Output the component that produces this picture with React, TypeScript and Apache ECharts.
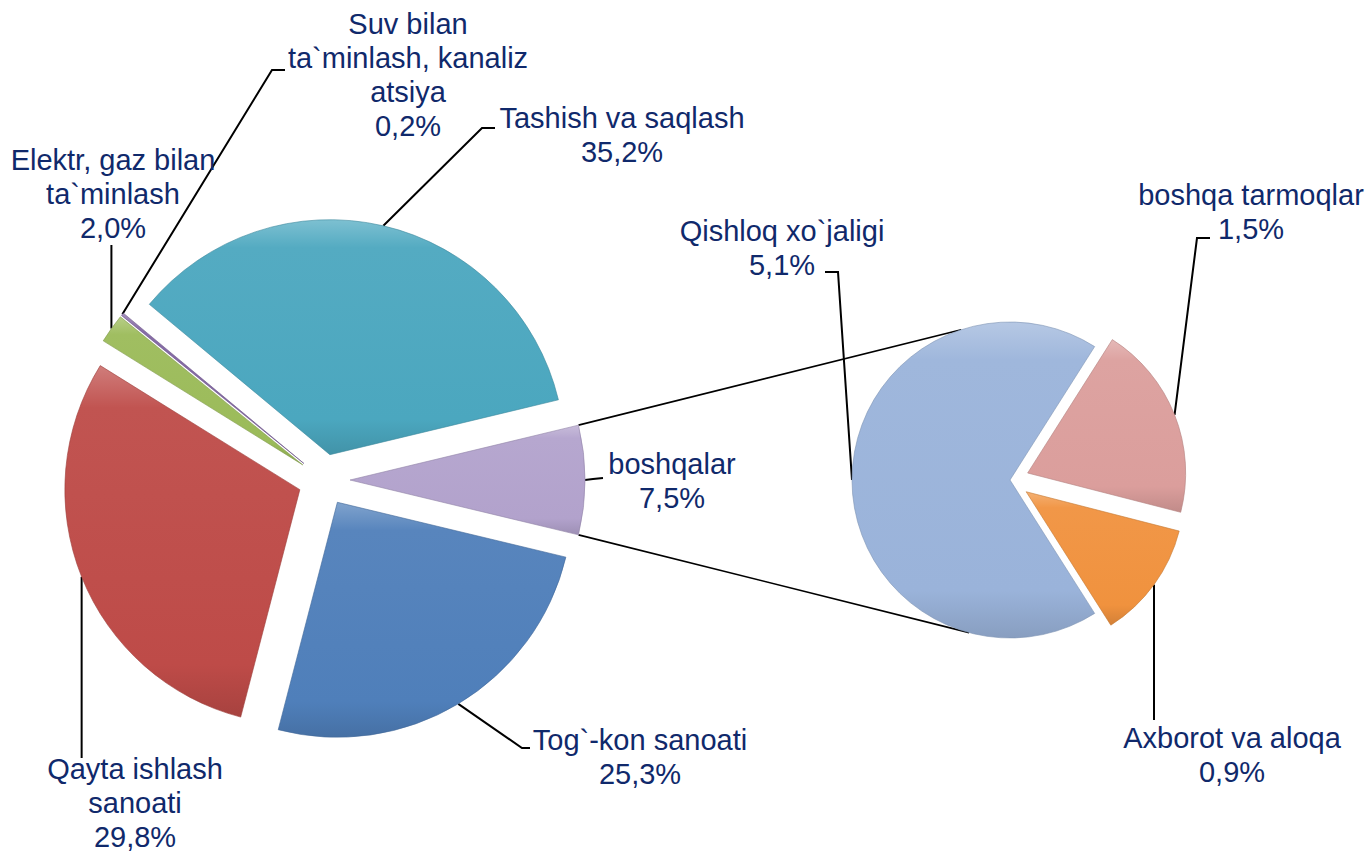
import React, { useEffect, useRef } from 'react';
import * as echarts from 'echarts';

// ---- Data ----
const mainNames = [
  'boshqalar',
  'Tashish va saqlash',
  'Suv bilan\nta`minlash, kanaliz\natsiya',
  'Elektr, gaz bilan\nta`minlash',
  'Qayta ishlash\nsanoati',
  'Tog`-kon sanoati',
];
const mainValues = [7.5, 35.2, 0.2, 2.0, 29.8, 25.3];
const mainColors = ['#B2A2CC', '#4BA7BF', '#8064A2', '#9BBB59', '#BE4B48', '#4F7FBA'];

const subNames = ['Qishloq xo`jaligi', 'Axborot va aloqa', 'boshqa tarmoqlar'];
const subValues = [5.1, 0.9, 1.5];
const subColors = ['#9AB3DA', '#F0923E', '#DB9E9C'];

// ---- Layout (positions / styles) ----
const MAIN_CENTER = [324, 480];
const MAIN_R = 235;
const MAIN_OFFSETS = [26, 26, 26, 26, 26, 26];
const SUB_CENTER = [1010, 480];
const SUB_R = 158;
const SUB_OFFSETS = [0, 20, 19];

const FONT = "'Liberation Sans', Arial, sans-serif";
const TEXT_COLOR = '#10296b';

type LabelSpec = { x: number; y: number; bend: (s: number[]) => number[][] };

const mainLabels: LabelSpec[] = [
  { x: 672, y: 481, bend: (s) => [[s[0] + 8, 479], [603, 478]] },
  { x: 622, y: 135, bend: () => [[482, 128], [495, 128]] },
  { x: 408, y: 75, bend: () => [[272, 70], [285, 70]] },
  { x: 113, y: 194, bend: (s) => [[s[0], 245]] },
  { x: 135, y: 803, bend: (s) => [[s[0], 758]] },
  { x: 640, y: 757, bend: () => [[522, 748], [530, 748]] },
];
const subLabels: LabelSpec[] = [
  { x: 782, y: 248, bend: () => [[838, 272], [825, 272]] },
  { x: 1232, y: 755, bend: (s) => [[s[0], 720]] },
  { x: 1251, y: 212, bend: () => [[1197, 238], [1210, 238]] },
];

function shade(hex: string, amt: number) {
  const n = parseInt(hex.slice(1), 16);
  const r = (n >> 16) & 255, g = (n >> 8) & 255, b = n & 255;
  const f = (c: number) => (amt >= 0 ? Math.round(c + (255 - c) * amt) : Math.round(c * (1 + amt)));
  return `rgb(${f(r)},${f(g)},${f(b)})`;
}

function fill(hex: string) {
  return new echarts.graphic.LinearGradient(0, 0, 0, 1, [
    { offset: 0, color: shade(hex, 0.28) },
    { offset: 0.12, color: shade(hex, 0.05) },
    { offset: 0.85, color: hex },
    { offset: 1, color: shade(hex, -0.12) },
  ]);
}

const fmt = (v: number) => v.toFixed(1).replace('.', ',');

function buildPie(
  names: string[], values: number[], colors: string[], center: number[], R: number,
  offsets: number[], startAngle: number, labels: LabelSpec[]
) {
  const total = values.reduce((a, b) => a + b, 0);
  let cum = 0;
  const centers: number[][] = [];
  const series = names.map((_, i) => {
    const mid = startAngle + ((cum + values[i] / 2) / total) * 360;
    cum += values[i];
    const rad = (mid * Math.PI) / 180;
    const c = [center[0] + offsets[i] * Math.cos(rad), center[1] - offsets[i] * Math.sin(rad)];
    centers.push(c);
    const edge = [c[0] + R * Math.cos(rad), c[1] - R * Math.sin(rad)];
    return {
      type: 'pie',
      silent: true,
      clockwise: false,
      startAngle,
      radius: R,
      center: c,
      avoidLabelOverlap: false,
      minShowLabelAngle: 0,
      emphasis: { disabled: true },
      data: names.map((n, j) => ({
        name: n,
        value: values[j],
        itemStyle:
          j === i
            ? { color: fill(colors[j]), borderColor: shade(colors[j], -0.18), borderWidth: 0.6 }
            : { color: 'rgba(0,0,0,0)', borderWidth: 0 },
        label: { show: j === i },
        labelLine: { show: j === i },
      })),
      label: {
        show: true,
        formatter: (p: any) => `${p.name}\n${fmt(p.value)}%`,
        fontFamily: FONT,
        fontSize: 29,
        lineHeight: 34,
        color: TEXT_COLOR,
        align: 'center',
      },
      labelLine: { show: true, length: 10, length2: 10, lineStyle: { color: '#000', width: 2 } },
      labelLayout: (p: any) => {
        if (p.dataIndex !== i) return {};
        const spec = labels[i];
        const start = edge;
        return {
          x: spec.x,
          y: spec.y,
          align: 'center',
          verticalAlign: 'middle',
          labelLinePoints: [start, ...spec.bend(start)],
        };
      },
    };
  });
  return { series, centers };
}

export default function App() {
  const ref = useRef<HTMLDivElement>(null);
  useEffect(() => {
    document.body.style.margin = '0';
    if (!ref.current) return;
    const chart = echarts.init(ref.current, null, { renderer: 'svg' });

    const mainTotal = mainValues.reduce((a, b) => a + b, 0);
    const mainStart = -((mainValues[0] / mainTotal) * 360) / 2;
    const subTotal = subValues.reduce((a, b) => a + b, 0);
    const subStart = 180 - ((subValues[0] / subTotal) * 360) / 2;

    const main = buildPie(mainNames, mainValues, mainColors, MAIN_CENTER, MAIN_R, MAIN_OFFSETS, mainStart, mainLabels);
    const sub = buildPie(subNames, subValues, subColors, SUB_CENTER, SUB_R, SUB_OFFSETS, subStart, subLabels);

    // connector lines from "boshqalar" slice corners to the secondary pie
    const oc = main.centers[0];
    const half = ((mainValues[0] / mainTotal) * 360) / 2;
    const a1 = (half * Math.PI) / 180;
    const p1 = [oc[0] + MAIN_R * Math.cos(a1), oc[1] - MAIN_R * Math.sin(a1)];
    const p2 = [oc[0] + MAIN_R * Math.cos(-a1), oc[1] - MAIN_R * Math.sin(-a1)];
    const t1 = (108 * Math.PI) / 180;
    const t2 = (-105 * Math.PI) / 180;
    const q1 = [SUB_CENTER[0] + SUB_R * Math.cos(t1), SUB_CENTER[1] - SUB_R * Math.sin(t1)];
    const q2 = [SUB_CENTER[0] + SUB_R * Math.cos(t2), SUB_CENTER[1] - SUB_R * Math.sin(t2)];

    chart.setOption({
      animation: false,
      backgroundColor: '#ffffff',
      graphic: [
        { type: 'line', z: 0, shape: { x1: p1[0], y1: p1[1], x2: q1[0], y2: q1[1] }, style: { stroke: '#000', lineWidth: 1.6 } },
        { type: 'line', z: 0, shape: { x1: p2[0], y1: p2[1], x2: q2[0], y2: q2[1] }, style: { stroke: '#000', lineWidth: 1.6 } },
      ],
      series: [...main.series, ...sub.series],
    });
    return () => chart.dispose();
  }, []);
  return <div ref={ref} style={{ width: 1371, height: 854 }} />;
}
